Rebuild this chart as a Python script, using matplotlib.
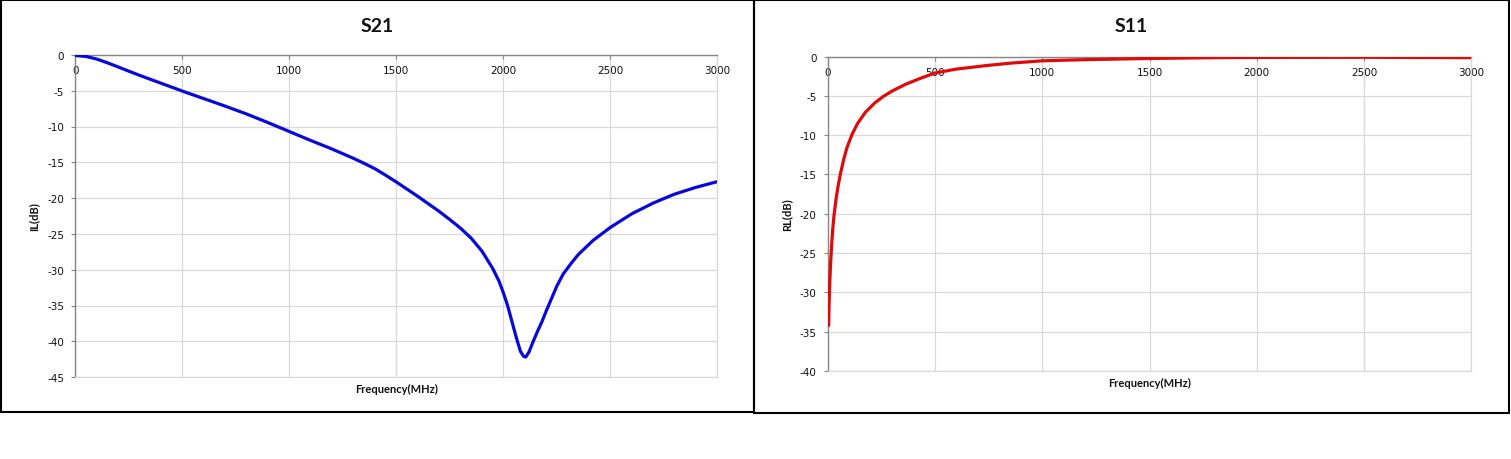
import matplotlib
matplotlib.use("Agg")
import matplotlib.pyplot as plt
from matplotlib.patches import Rectangle
from matplotlib.ticker import MultipleLocator

plt.rcParams["axes.unicode_minus"] = False

# ---------------- data ----------------
s21_freq = [0, 50, 100, 150, 200, 250, 300, 400, 500, 600, 700, 800, 900, 1000,
            1100, 1200, 1300, 1350, 1400, 1450, 1500, 1600, 1700, 1750, 1800,
            1850, 1900, 1950, 1980, 2000, 2020, 2040, 2060, 2080, 2095, 2105,
            2120, 2140, 2160, 2180, 2200, 2220, 2250, 2280, 2320, 2350, 2420,
            2500, 2600, 2700, 2800, 2900, 3000]
s21_db = [-0.08, -0.22, -0.58, -1.1, -1.68, -2.27, -2.85, -3.95, -5.05, -6.1,
          -7.15, -8.25, -9.45, -10.7, -11.95, -13.15, -14.45, -15.15, -15.9,
          -16.8, -17.75, -19.75, -21.85, -23.0, -24.2, -25.6, -27.4, -29.8,
          -31.6, -33.2, -35.0, -37.2, -39.4, -41.4, -42.1, -42.2, -41.5, -40.0,
          -38.6, -37.3, -35.8, -34.4, -32.3, -30.6, -29.0, -27.9, -25.9, -24.1,
          -22.2, -20.7, -19.45, -18.5, -17.7]

s11_freq = [5, 7, 10, 14, 20, 25, 30, 40, 50, 60, 75, 90, 114, 140, 176, 220,
            261, 300, 362, 430, 500, 600, 741, 850, 1000, 1200, 1500, 1800,
            2000, 2500, 3000]
s11_db = [-34.2, -31.5, -28.8, -26.3, -23.5, -21.6, -20.2, -18.0, -16.3, -14.9,
          -13.1, -11.6, -9.9, -8.5, -7.1, -5.9, -5.05, -4.4, -3.55, -2.8,
          -2.1, -1.6, -1.15, -0.85, -0.55, -0.4, -0.25, -0.15, -0.12, -0.1,
          -0.15]

titles = ["S21", "S11"]
ylabels = ["IL(dB)", "RL(dB)"]
xlabel = "Frequency(MHz)"
x_ticks = [0, 500, 1000, 1500, 2000, 2500, 3000]

# ---------------- figure ----------------
W, H = 1511, 460
fig = plt.figure(figsize=(W / 100, H / 100), dpi=100)
fig.patch.set_facecolor("white")

def fx(px):
    return px / W

def fy(py):
    return 1 - py / H

# chart borders
for (x0, y0, x1, y1) in [(1, 1, 754, 413), (754, 1, 1509, 414)]:
    fig.patches.append(Rectangle((fx(x0), fy(y1)), fx(x1 - x0), (y1 - y0) / H,
                                 transform=fig.transFigure, fill=False,
                                 edgecolor="black", linewidth=1.5))

GRID = "#d9d9d9"
AXC = "#868686"
TXT = "#111111"

specs = [
    dict(px=(75.3, 717.3), py=(55.9, 378.1), ymin=-45, title_x=377,
         x=s21_freq, y=s21_db, color="#0808D8"),
    dict(px=(827.6, 1471.4), py=(57.5, 372.0), ymin=-40, title_x=1131.5,
         x=s11_freq, y=s11_db, color="#E00A0A"),
]

for i, sp in enumerate(specs):
    l, r = sp["px"]
    t, b = sp["py"]
    ax = fig.add_axes([fx(l), fy(b), (r - l) / W, (b - t) / H])
    ax.plot(sp["x"], sp["y"], color=sp["color"], linewidth=2.3,
            solid_capstyle="round", solid_joinstyle="round", zorder=3)
    ax.set_xlim(0, 3000)
    ax.set_ylim(sp["ymin"], 0)
    ax.set_xticks(x_ticks)
    ax.yaxis.set_major_locator(MultipleLocator(5))
    ax.grid(True, color=GRID, linewidth=0.9)
    ax.set_axisbelow(True)
    for s in ["bottom", "right"]:
        ax.spines[s].set_color(GRID)
        ax.spines[s].set_linewidth(0.9)
    for s in ["top", "left"]:
        ax.spines[s].set_color(AXC)
        ax.spines[s].set_linewidth(1.0)
        ax.spines[s].set_zorder(2.5)
    ax.tick_params(axis="y", direction="out", length=3, width=0.8,
                   color=AXC, pad=5, labelsize=7.5, labelcolor=TXT)
    ax.tick_params(axis="x", top=True, bottom=False, labeltop=True,
                   labelbottom=False, direction="in", length=3, width=0.8,
                   color=AXC, pad=-14.5, labelsize=7.5, labelcolor=TXT)
    for lab in ax.get_xticklabels() + ax.get_yticklabels():
        lab.set_fontfamily("DejaVu Sans")

    ax.set_xlabel(xlabel, fontsize=8, fontweight="bold", family="Lato",
                  color=TXT)
    ax.xaxis.set_label_position("bottom")
    ax.xaxis.set_label_coords(0.5, -11 / (b - t))
    ax.xaxis.label.set_va("center")
    ax.set_ylabel(ylabels[i], fontsize=8, fontweight="bold", family="Lato",
                  color=TXT)
    ax.yaxis.set_label_coords(-41 / (r - l), 0.5)
    ax.yaxis.label.set_va("center")

    fig.text(fx(sp["title_x"]), fy(27), titles[i], ha="center", va="center",
             fontsize=14, fontweight="bold", family="Lato", color=TXT)

fig.savefig("out.png", dpi=100, facecolor="white")
